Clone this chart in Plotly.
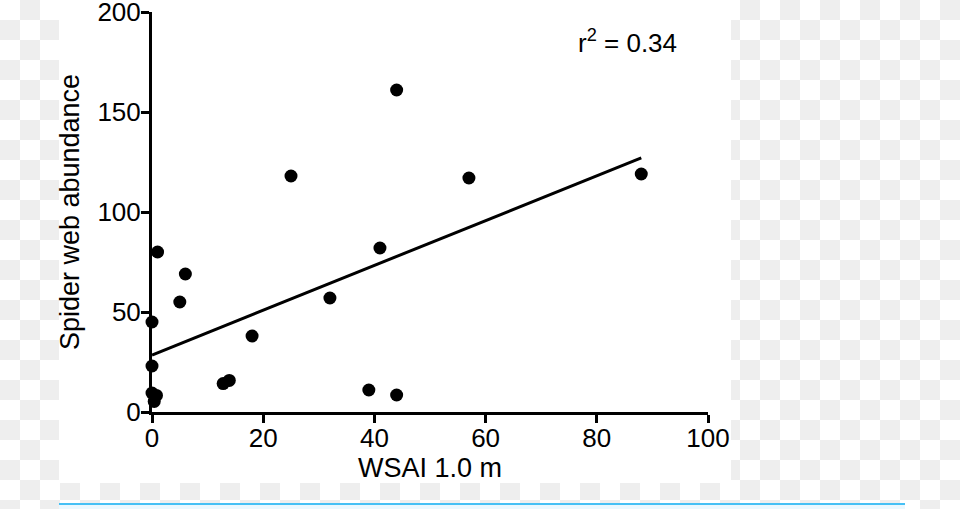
import plotly.graph_objects as go

# ---- data ----
wsai = [0, 0, 0, 0.4, 0.8, 1, 5, 6, 12.8, 13.9, 18, 25, 32, 39, 41, 44, 44, 57, 88]
webs = [45, 23, 9.5, 5.3, 8.3, 80, 55, 69, 14.2, 15.8, 38, 118, 57, 11, 82, 161, 8.5, 117, 119]
fit_intercept = 28.5
fit_slope = 1.12
fit_x = [0, 88]
fit_y = [fit_intercept + fit_slope * v for v in fit_x]
x_ticks = [0, 20, 40, 60, 80, 100]
y_ticks = [0, 50, 100, 150, 200]
r2_text = "r<sup>2</sup> = 0.34"

W, H = 960, 509
L, R, T, B = 152, 708, 12, 412  # plot area in pixels


def px_x(p):
    return (p - L) / (R - L)


def px_y(p):
    return (B - p) / (B - T)


FONT = "Arial, 'Liberation Sans', Helvetica, sans-serif"

fig = go.Figure()
fig.add_trace(go.Scatter(x=fit_x, y=fit_y, mode="lines",
                         line=dict(color="black", width=3),
                         hoverinfo="skip", showlegend=False, cliponaxis=False))
fig.add_trace(go.Scatter(x=wsai, y=webs, mode="markers",
                         marker=dict(color="black", size=13),
                         showlegend=False, cliponaxis=False))

# background: transparent-image checkerboard around a white card
shapes = []
sq = 20
for row in range(0, (H // sq) + 1):
    for col in range(0, (W // sq) + 1):
        if (row + col) % 2 == 0:
            continue
        x0, y0 = col * sq, row * sq
        x1, y1 = x0 + sq, y0 + sq
        if x0 >= 59 and x1 <= 731 and y1 <= 483:
            continue
        shapes.append(dict(type="rect", xref="paper", yref="paper",
                           x0=px_x(x0), x1=px_x(x1), y0=px_y(y1), y1=px_y(y0),
                           fillcolor="#eeeeee", line=dict(width=0), layer="below"))
shapes.append(dict(type="rect", xref="paper", yref="paper",
                   x0=px_x(59), x1=px_x(731), y0=px_y(483), y1=px_y(0),
                   fillcolor="white", line=dict(width=0), layer="below"))
shapes.append(dict(type="rect", xref="paper", yref="paper",
                   x0=px_x(59), x1=px_x(905), y0=px_y(509), y1=px_y(505),
                   fillcolor="#eaf8ff", line=dict(width=0), layer="below"))
shapes.append(dict(type="line", xref="paper", yref="paper",
                   x0=px_x(59), x1=px_x(905), y0=px_y(504), y1=px_y(504),
                   line=dict(color="#45c0f5", width=2), layer="below"))

axis_common = dict(ticks="outside", ticklen=8, tickwidth=3, tickcolor="black",
                   showline=True, linecolor="black", linewidth=3,
                   showgrid=False, zeroline=False, automargin=False,
                   ticklabeloverflow="allow", tickfont=dict(size=26))

fig.update_layout(
    width=W, height=H,
    margin=dict(l=L, r=W - R, t=T, b=H - B, pad=0, autoexpand=False),
    paper_bgcolor="white", plot_bgcolor="rgba(0,0,0,0)",
    font=dict(family=FONT, size=26, color="black"),
    shapes=shapes,
    xaxis=dict(range=[0, 100], tickvals=x_ticks, ticklabelstandoff=-7,
               title=dict(text="WSAI 1.0 m", standoff=4, font=dict(size=27)),
               **axis_common),
    yaxis=dict(range=[0, 200], tickvals=y_ticks, ticklabelstandoff=-5,
               title=dict(text="Spider web abundance", standoff=10, font=dict(size=27)),
               **axis_common),
    annotations=[dict(text=r2_text, xref="paper", yref="paper",
                      x=px_x(627), y=px_y(41), xanchor="center", yanchor="middle",
                      showarrow=False, font=dict(size=26))],
)

fig.write_html("out.html", config={"displayModeBar": False},
               post_script="document.body.style.margin='0';document.body.style.overflow='hidden';")
